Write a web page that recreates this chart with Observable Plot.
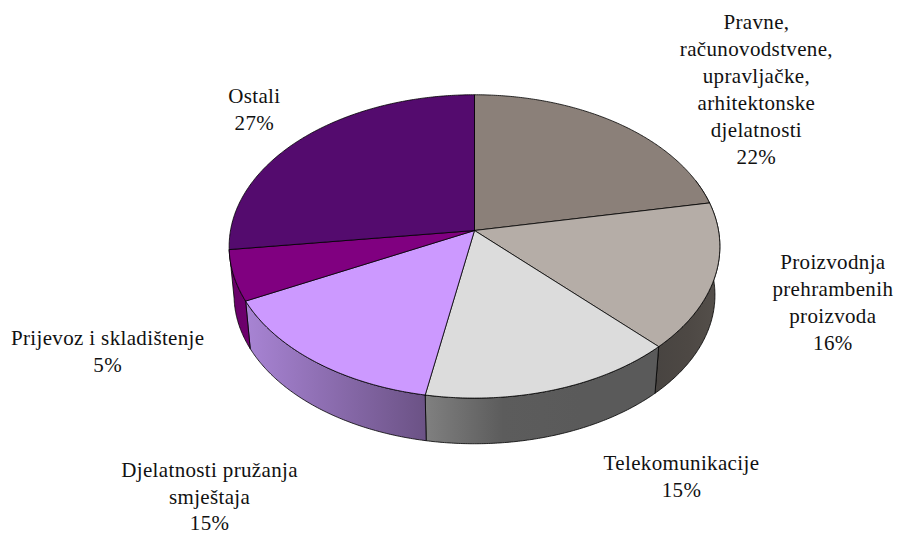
<!DOCTYPE html>
<html>
<head>
<meta charset="utf-8">
<script src="https://cdn.jsdelivr.net/npm/d3@7"></script>
<script src="https://cdn.jsdelivr.net/npm/@observablehq/plot@0.6"></script>
<style>html,body{margin:0;padding:0;background:#fff}svg{display:block}svg text{letter-spacing:.35px}</style>
</head>
<body>
<div id="chart"></div>
<script>
const categories = [
  "Pravne,\nračunovodstvene,\nupravljačke,\narhitektonske\ndjelatnosti",
  "Proizvodnja\nprehrambenih\nproizvoda",
  "Telekomunikacije",
  "Djelatnosti pružanja\nsmještaja",
  "Prijevoz i skladištenje",
  "Ostali"
];
const shares = [22, 15.7, 15.2, 14.7, 5.4, 27];
const topColors = ["#8B8079", "#B5ADA7", "#DCDCDC", "#CC99FF", "#800080", "#540B6E"];
// Side-wall gradient stops, left to right on the page (the last slice has no visible wall).
const wallShades = [
  ["#4a4541", "#55504b"],
  ["#484441", "#4d4844", "#55504b"],
  ["#808080", "#5c5c5c", "#5a5a5a", "#5a5a5a"],
  ["#a884d4", "#6b5285"],
  ["#680068", "#6e006e"]
];
const labelShift = [[138, -35.5], [118, 24], [128, 85], [-105, 133.5], [-126, 74], [-49, -30]];

// Tilted-disc view: a unit circle seen in perspective, with a thickness below it.
const tilt = 0.105, lowerScale = 0.98, lowerDrop = 49 / 150;
const rim = (deg, lower = false) => {
  const a = deg * Math.PI / 180, u = Math.sin(a), v = -Math.cos(a), w = 1 - tilt * v;
  const s = lower ? lowerScale : 1;
  return {x: s * u / w, y: s * v / w + (lower ? lowerDrop : 0)};
};
const steps = (a, b, by = 0.5) => {
  const n = Math.max(1, Math.ceil((b - a) / by));
  return Array.from({length: n + 1}, (_, i) => a + (b - a) * i / n);
};

let sum = 0;
const slices = shares.map((s, i) => {
  const start = sum * 3.6; sum += s;
  return {i, share: s, start, end: sum * 3.6, mid: (start + sum * 3.6) / 2, name: categories[i]};
});

const topPath = d => [{x: 0, y: 0}, ...steps(d.start, d.end).map(t => rim(t)), {x: 0, y: 0}];
const wallPath = d => {
  const ts = steps(Math.max(d.start, 70), d.end);
  return [...ts.map(t => rim(t)), ...ts.slice().reverse().map(t => rim(t, true)), rim(ts[0])];
};

const gradients = () => {
  const ns = "http://www.w3.org/2000/svg";
  const defs = document.createElementNS(ns, "defs");
  wallShades.forEach((stops, i) => {
    const g = document.createElementNS(ns, "linearGradient");
    g.setAttribute("id", `wall${i}`);
    stops.forEach((c, k) => {
      const s = document.createElementNS(ns, "stop");
      s.setAttribute("offset", k / (stops.length - 1));
      s.setAttribute("stop-color", c);
      g.append(s);
    });
    defs.append(g);
  });
  return defs;
};

const chart = Plot.plot({
  width: 905, height: 536, margin: 0,
  x: {domain: [-1, 1], range: [230, 718], axis: null},
  y: {domain: [-1, 1], range: [80, 380], axis: null},
  marks: [
    gradients,
    ...slices.filter(d => wallShades[d.i]).map(d => Plot.line(wallPath(d), {x: "x", y: "y", fill: `url(#wall${d.i})`, stroke: "#000", strokeWidth: 0.8, curve: "linear"})),
    ...slices.map(d => Plot.line(topPath(d), {x: "x", y: "y", fill: topColors[d.i], stroke: "#000", strokeWidth: 0.8, curve: "linear"})),
    ...slices.map(d => Plot.text([{...rim(d.mid), text: `${d.name}\n${Math.round(d.share)}%`}], {
      x: "x", y: "y", text: "text",
      dx: labelShift[d.i][0], dy: labelShift[d.i][1],
      fontFamily: "Liberation Serif", fontSize: 21, lineHeight: 1.28, fill: "#111", lineAnchor: "middle"
    }))
  ]
});
document.getElementById("chart").append(chart);
</script>
</body>
</html>
